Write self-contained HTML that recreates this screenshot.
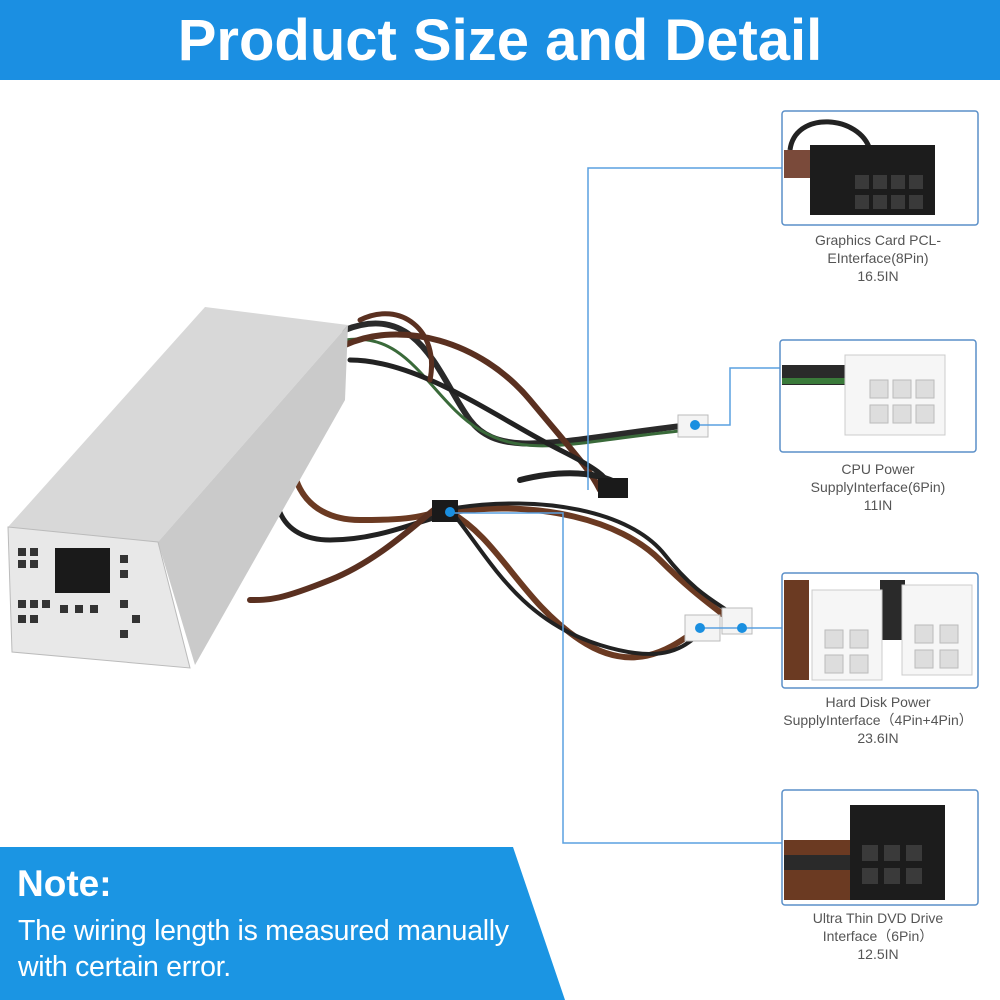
<!DOCTYPE html>
<html><head><meta charset="utf-8"><style>
html,body{margin:0;padding:0;background:#fff;}
body{width:1000px;height:1000px;position:relative;overflow:hidden;font-family:"Liberation Sans",sans-serif;}
.top{position:absolute;left:0;top:0;width:1000px;height:80px;background:#1b8fe2;color:#fff;font-weight:bold;font-size:58px;text-align:center;line-height:82px;}
.lbl{position:absolute;width:240px;text-align:center;color:#555;font-size:14px;line-height:18px;}
.note{position:absolute;color:#fff;font-weight:bold;}
</style></head><body>
<div class="top">Product Size and Detail</div>
<svg width="1000" height="1000" style="position:absolute;left:0;top:0">
<polygon points="0,847 513,847 565,1000 0,1000" fill="#1b95e3"/>
<g fill="none" stroke-linecap="round">
<path d="M345,330 C420,300 440,380 470,420 S560,440 690,425" stroke="#2a2a2a" stroke-width="6"/>
<path d="M345,340 C410,330 430,400 480,430 S580,440 690,430" stroke="#3a6a3a" stroke-width="3"/>
<path d="M345,345 C400,320 480,340 530,400 S590,470 600,490" stroke="#5a3020" stroke-width="6"/>
<path d="M350,360 C420,360 500,420 560,450 S600,480 620,495" stroke="#222" stroke-width="5"/>
<path d="M300,420 C280,470 300,520 360,520 S420,515 440,512" stroke="#6b3a22" stroke-width="6"/>
<path d="M290,440 C260,500 280,540 330,540 S420,520 445,515" stroke="#222" stroke-width="5"/>
<path d="M450,512 C500,540 520,600 580,640 S680,640 700,628" stroke="#6b3a22" stroke-width="6"/>
<path d="M455,516 C490,560 520,620 600,645 S690,635 705,632" stroke="#222" stroke-width="4"/>
<path d="M450,512 C540,500 620,520 660,560 S720,610 735,625" stroke="#6b3a22" stroke-width="6"/>
<path d="M455,508 C540,495 630,510 665,555 S725,605 742,622" stroke="#222" stroke-width="4"/>
<path d="M440,505 C420,520 380,560 330,580 S270,600 250,600" stroke="#5a3020" stroke-width="6"/>
<path d="M520,480 C560,470 600,470 625,488" stroke="#222" stroke-width="6"/>
<path d="M360,320 C400,300 440,330 430,380" stroke="#5a3020" stroke-width="5"/>
</g>
<rect x="678" y="415" width="30" height="22" fill="#f4f4f4" stroke="#bbb"/>
<rect x="598" y="478" width="30" height="20" fill="#1a1a1a"/>
<rect x="432" y="500" width="26" height="22" fill="#1a1a1a"/>
<rect x="685" y="615" width="35" height="26" fill="#f4f4f4" stroke="#bbb"/>
<rect x="722" y="608" width="30" height="26" fill="#f4f4f4" stroke="#bbb"/>
<polygon points="8,527 205,307 348,325 158,542" fill="#d8d8d8"/>
<polygon points="158,542 348,325 345,400 195,665" fill="#cacaca"/>
<polygon points="8,527 158,542 190,668 12,652" fill="#e8e8e8" stroke="#bbb"/>
<rect x="55" y="548" width="55" height="45" fill="#1a1a1a"/>
<g fill="#333">
<rect x="18" y="548" width="8" height="8"/><rect x="30" y="548" width="8" height="8"/><rect x="18" y="560" width="8" height="8"/><rect x="30" y="560" width="8" height="8"/>
<rect x="18" y="600" width="8" height="8"/><rect x="30" y="600" width="8" height="8"/><rect x="42" y="600" width="8" height="8"/><rect x="18" y="615" width="8" height="8"/><rect x="30" y="615" width="8" height="8"/>
<rect x="120" y="555" width="8" height="8"/><rect x="120" y="570" width="8" height="8"/><rect x="120" y="600" width="8" height="8"/><rect x="132" y="615" width="8" height="8"/><rect x="120" y="630" width="8" height="8"/>
<rect x="60" y="605" width="8" height="8"/><rect x="75" y="605" width="8" height="8"/><rect x="90" y="605" width="8" height="8"/>
</g>
<g stroke="#5aa0e0" stroke-width="1.5" fill="none">
<polyline points="782,168 588,168 588,490"/>
<polyline points="780,368 730,368 730,425 695,425"/>
<polyline points="782,628 700,628"/>
<polyline points="782,843 563,843 563,513 450,513"/>
</g>
<g fill="#1a8fe0"><circle cx="695" cy="425" r="5"/><circle cx="700" cy="628" r="5"/><circle cx="742" cy="628" r="5"/><circle cx="450" cy="512" r="5"/></g>
<g fill="#fff" stroke="#5a8fc8" stroke-width="1.5">
<rect x="782" y="111" width="196" height="114" rx="3"/>
<rect x="780" y="340" width="196" height="112" rx="3"/>
<rect x="782" y="573" width="196" height="115" rx="3"/>
<rect x="782" y="790" width="196" height="115" rx="3"/>
</g>
<path d="M790,150 C795,110 860,115 870,150" stroke="#222" stroke-width="5" fill="none"/>
<rect x="784" y="150" width="30" height="28" fill="#7a4a3a"/>
<rect x="810" y="145" width="125" height="70" fill="#1c1c1c"/>
<g fill="#3a3a3a"><rect x="855" y="175" width="14" height="14"/><rect x="873" y="175" width="14" height="14"/><rect x="891" y="175" width="14" height="14"/><rect x="909" y="175" width="14" height="14"/>
<rect x="855" y="195" width="14" height="14"/><rect x="873" y="195" width="14" height="14"/><rect x="891" y="195" width="14" height="14"/><rect x="909" y="195" width="14" height="14"/></g>
<rect x="782" y="365" width="70" height="20" fill="#2a2a2a"/>
<rect x="782" y="378" width="70" height="6" fill="#3a7a3a"/>
<rect x="845" y="355" width="100" height="80" fill="#f6f6f6" stroke="#ccc"/>
<g fill="#ddd" stroke="#bbb"><rect x="870" y="380" width="18" height="18"/><rect x="893" y="380" width="18" height="18"/><rect x="916" y="380" width="18" height="18"/><rect x="870" y="405" width="18" height="18"/><rect x="893" y="405" width="18" height="18"/><rect x="916" y="405" width="18" height="18"/></g>
<rect x="784" y="580" width="25" height="100" fill="#6b3a22"/>
<rect x="880" y="580" width="25" height="60" fill="#2a2a2a"/>
<rect x="812" y="590" width="70" height="90" fill="#f6f6f6" stroke="#ccc"/>
<rect x="902" y="585" width="70" height="90" fill="#f6f6f6" stroke="#ccc"/>
<g fill="#ddd" stroke="#bbb"><rect x="825" y="630" width="18" height="18"/><rect x="850" y="630" width="18" height="18"/><rect x="825" y="655" width="18" height="18"/><rect x="850" y="655" width="18" height="18"/>
<rect x="915" y="625" width="18" height="18"/><rect x="940" y="625" width="18" height="18"/><rect x="915" y="650" width="18" height="18"/><rect x="940" y="650" width="18" height="18"/></g>
<rect x="784" y="840" width="90" height="60" fill="#6b3a22"/>
<rect x="784" y="855" width="90" height="15" fill="#2a2a2a"/>
<rect x="850" y="805" width="95" height="95" fill="#1c1c1c"/>
<g fill="#3a3a3a"><rect x="862" y="845" width="16" height="16"/><rect x="884" y="845" width="16" height="16"/><rect x="906" y="845" width="16" height="16"/><rect x="862" y="868" width="16" height="16"/><rect x="884" y="868" width="16" height="16"/><rect x="906" y="868" width="16" height="16"/></g>
</svg>
<div class="lbl" style="left:758px;top:231px">Graphics Card PCL-<br>EInterface(8Pin)<br>16.5IN</div>
<div class="lbl" style="left:758px;top:460px">CPU Power<br>SupplyInterface(6Pin)<br>11IN</div>
<div class="lbl" style="left:758px;top:693px">Hard Disk Power<br>SupplyInterface（4Pin+4Pin）<br>23.6IN</div>
<div class="lbl" style="left:758px;top:909px">Ultra Thin DVD Drive<br>Interface（6Pin）<br>12.5IN</div>
<div class="note" style="left:17px;top:863px;font-size:37px">Note:</div>
<div class="note" style="left:18px;top:913px;font-size:28.5px;font-weight:normal;line-height:36px;letter-spacing:-0.3px">The wiring length is measured manually<br>with certain error.</div>
</body></html>
